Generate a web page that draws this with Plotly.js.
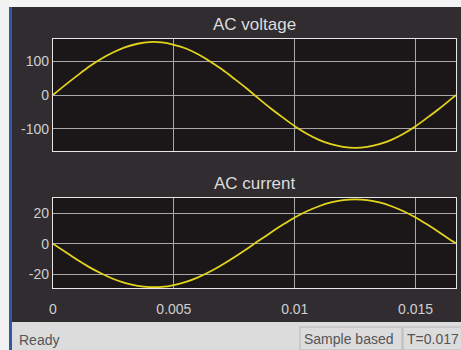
<!DOCTYPE html>
<html>
<head>
<meta charset="utf-8">
<script src="https://cdn.plot.ly/plotly-3.0.1.min.js"></script>
<style>html,body{margin:0;padding:0;background:#fff;}#chart{width:461px;height:350px;}</style>
</head>
<body>
<div id="chart"></div>
<script>
// time samples (s)
const time = [0, 0.0005, 0.001, 0.0015, 0.002, 0.0025, 0.003, 0.0035, 0.004, 0.0045,
  0.005, 0.0055, 0.006, 0.0065, 0.007, 0.0075, 0.008, 0.0085, 0.009, 0.0095,
  0.010, 0.0105, 0.011, 0.0115, 0.012, 0.0125, 0.013, 0.0135, 0.014, 0.0145,
  0.015, 0.0155, 0.016, 0.0165, 0.01667];
// AC voltage (V) read from the scope
const voltage = [0, 29, 57, 84, 107, 126, 141, 151, 156, 155,
  148, 137, 120, 99, 75, 48, 20, -10, -39, -66,
  -92, -114, -132, -145, -153, -156, -153, -145, -132, -114,
  -92, -66, -39, -10, 0];
// AC current (A) read from the scope
const current = [0, -5.3, -10.5, -15.3, -19.5, -23.1, -25.8, -27.6, -28.4, -28.3,
  -27.1, -25.0, -22.0, -18.2, -13.7, -8.8, -3.6, 1.9, 7.3, 12.4,
  17.2, 21.3, 24.6, 27.1, 28.6, 29.1, 28.6, 27.1, 24.6, 21.3,
  17.2, 12.4, 7.3, 1.9, 0.4];
const xTicks = [0, 0.005, 0.01, 0.015];
const xTickText = ['0', '0.005', '0.01', '0.015'];
const vTicks = [-100, 0, 100];
const vTickText = ['-100', '0', '100'];
const iTicks = [-20, 0, 20];
const iTickText = ['-20', '0', '20'];
const titles = ['AC voltage', 'AC current'];
const statusTexts = ['Ready', 'Sample based', 'T=0.017'];

const W = 461, H = 350, ML = 53, MR = 5, MT = 39, MB = 62;
const pw = W - ML - MR, ph = H - MT - MB;
const px = x => (x - ML) / pw;
const py = y => (H - MB - y) / ph;

const lineStyle = {color: '#e2d41c', width: 1.8, shape: 'spline'};
const traces = [
  {x: time, y: voltage, xaxis: 'x2', yaxis: 'y', mode: 'lines', line: lineStyle, hoverinfo: 'skip'},
  {x: time, y: current, xaxis: 'x', yaxis: 'y2', mode: 'lines', line: lineStyle, hoverinfo: 'skip'}
];

const font = {family: 'Liberation Sans, Arial, sans-serif', color: '#cfcfcf', size: 14};
const axCommon = {
  showgrid: true, gridcolor: '#a8a8a8', gridwidth: 1,
  showline: true, linecolor: '#e6e6e6', linewidth: 1.2, mirror: true,
  zeroline: false, ticks: '', tickfont: font, fixedrange: true
};

const layout = {
  width: W, height: H,
  margin: {l: ML, r: MR, t: MT, b: MB},
  paper_bgcolor: '#302c30',
  plot_bgcolor: '#1b1618',
  showlegend: false,
  xaxis: Object.assign({}, axCommon, {range: [0, 0.01667], anchor: 'y2', tickvals: xTicks, ticktext: xTickText, ticklabelstandoff: 8}),
  xaxis2: Object.assign({}, axCommon, {range: [0, 0.01667], anchor: 'y', matches: 'x', tickvals: xTicks, showticklabels: false}),
  yaxis: Object.assign({}, axCommon, {range: [-165, 165], domain: [py(151), 1], anchor: 'x2', tickvals: vTicks, ticktext: vTickText}),
  yaxis2: Object.assign({}, axCommon, {range: [-29, 30], domain: [0, py(198)], anchor: 'x', tickvals: iTicks, ticktext: iTickText}),
  shapes: [
    // top white strip
    {type: 'rect', xref: 'paper', yref: 'paper', x0: px(0), x1: px(W), y0: py(7), y1: py(0), fillcolor: '#f4f4f4', line: {width: 0}},
    // left white edge and thin blue line
    {type: 'rect', xref: 'paper', yref: 'paper', x0: px(0), x1: px(9), y0: py(350), y1: py(0), fillcolor: '#f2f2f2', line: {width: 0}},
    {type: 'rect', xref: 'paper', yref: 'paper', x0: px(9), x1: px(12), y0: py(350), y1: py(7), fillcolor: '#2f5aa0', line: {width: 0}},
    // status bar
    {type: 'rect', xref: 'paper', yref: 'paper', x0: px(12), x1: px(W), y0: py(350), y1: py(322), fillcolor: '#dcdcdc', line: {width: 0}},
    {type: 'rect', xref: 'paper', yref: 'paper', x0: px(300), x1: px(402), y0: py(350), y1: py(327), fillcolor: 'rgba(0,0,0,0)', line: {color: '#b8b8b8', width: 1}},
    {type: 'rect', xref: 'paper', yref: 'paper', x0: px(403), x1: px(470), y0: py(350), y1: py(327), fillcolor: 'rgba(0,0,0,0)', line: {color: '#b8b8b8', width: 1}}
  ],
  annotations: [
    {text: titles[0], xref: 'paper', yref: 'paper', x: px(254), y: py(25), showarrow: false, xanchor: 'center', yanchor: 'middle', font: {family: font.family, color: '#dcdcdc', size: 17}},
    {text: titles[1], xref: 'paper', yref: 'paper', x: px(255), y: py(183), showarrow: false, xanchor: 'center', yanchor: 'middle', font: {family: font.family, color: '#dcdcdc', size: 17}},
    {text: statusTexts[0], xref: 'paper', yref: 'paper', x: px(17), y: py(340), showarrow: false, xanchor: 'left', yanchor: 'middle', font: {family: font.family, color: '#555', size: 14}},
    {text: statusTexts[1], xref: 'paper', yref: 'paper', x: px(302), y: py(339), showarrow: false, xanchor: 'left', yanchor: 'middle', font: {family: font.family, color: '#555', size: 14}},
    {text: statusTexts[2], xref: 'paper', yref: 'paper', x: px(405), y: py(339), showarrow: false, xanchor: 'left', yanchor: 'middle', font: {family: font.family, color: '#555', size: 14}}
  ]
};

Plotly.newPlot('chart', traces, layout, {staticPlot: true, displayModeBar: false});
</script>
</body>
</html>
